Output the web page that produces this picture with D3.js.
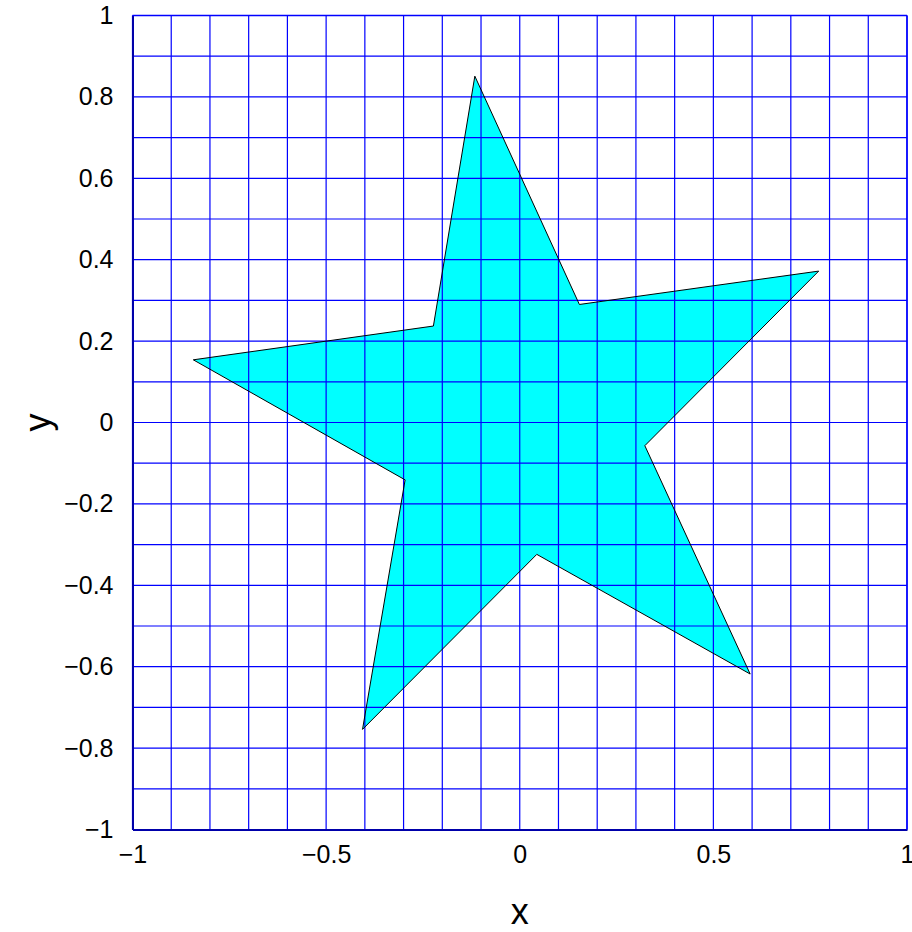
<!DOCTYPE html>
<html>
<head>
<meta charset="utf-8">
<script src="https://cdn.jsdelivr.net/npm/d3@7"></script>
<style>
  html, body { margin: 0; padding: 0; background: #fff; }
  svg text { font-family: "Liberation Sans", Arial, Helvetica, sans-serif; fill: #000; }
</style>
</head>
<body>
<svg id="chart" width="912" height="932"></svg>
<script>
// Star polygon vertices (tips and inner corners, in order)
const starX = [-0.116, 0.154, 0.772, 0.323, 0.595, 0.044, -0.406, -0.296, -0.843, -0.223];
const starY = [0.851, 0.290, 0.372, -0.057, -0.618, -0.324, -0.754, -0.141, 0.154, 0.237];

// Axis ticks and labels
const xTicks = [-1, -0.5, 0, 0.5, 1];
const xTickLabels = ["\u22121", "\u22120.5", "0", "0.5", "1"];
const yTicks = [1, 0.8, 0.6, 0.4, 0.2, 0, -0.2, -0.4, -0.6, -0.8, -1];
const yTickLabels = ["1", "0.8", "0.6", "0.4", "0.2", "0", "\u22120.2", "\u22120.4", "\u22120.6", "\u22120.8", "\u22121"];
// Grid spacing of 0.1 on both axes
const gridX = d3.range(-10, 11).map(i => i / 10);
const gridY = d3.range(-10, 11).map(i => i / 10);

const svg = d3.select("#chart");
const plotL = 132.5, plotR = 907, plotT = 15.5, plotB = 829.5;

const x = d3.scaleLinear().domain([-1, 1]).range([plotL, plotR]);
const y = d3.scaleLinear().domain([-1, 1]).range([plotB, plotT]);

// Star fill (drawn under the grid, as the grid shows through it)
const pts = starX.map((d, i) => [x(d), y(starY[i])]);
svg.append("polygon")
  .attr("points", pts.map(p => p.join(",")).join(" "))
  .attr("fill", "#00ffff")
  .attr("stroke", "none");

// Grid lines
const grid = svg.append("g").attr("stroke", "#0000ff").attr("stroke-width", 1.2);
grid.selectAll("line.gx").data(gridX).join("line").attr("class", "gx")
  .attr("x1", d => x(d)).attr("x2", d => x(d))
  .attr("y1", plotT).attr("y2", plotB);
grid.selectAll("line.gy").data(gridY).join("line").attr("class", "gy")
  .attr("y1", d => y(d)).attr("y2", d => y(d))
  .attr("x1", plotL).attr("x2", plotR);

// Star outline
svg.append("polygon")
  .attr("points", pts.map(p => p.join(",")).join(" "))
  .attr("fill", "none")
  .attr("stroke", "#000")
  .attr("stroke-width", 1);

// Axes (blue) with tick labels
const xAxis = d3.axisBottom(x).tickValues(xTicks)
  .tickFormat((d, i) => xTickLabels[i]).tickSize(0).tickPadding(16);
const gx = svg.append("g").attr("transform", `translate(0,${plotB})`).call(xAxis);
gx.select(".domain").attr("stroke", "#0000aa").attr("stroke-width", 2);
gx.selectAll("text").style("font-size", "25px").attr("fill", "#000");

const yAxis = d3.axisLeft(y).tickValues(yTicks)
  .tickFormat((d, i) => yTickLabels[i]).tickSize(0).tickPadding(19);
const gy = svg.append("g").attr("transform", `translate(${plotL},0)`).call(yAxis);
gy.select(".domain").attr("stroke", "#0000aa").attr("stroke-width", 2);
gy.selectAll("text").style("font-size", "25px").attr("fill", "#000");

// Top and right box edges
svg.append("line").attr("x1", plotL).attr("x2", plotR).attr("y1", plotT).attr("y2", plotT)
  .attr("stroke", "#0000ff").attr("stroke-width", 1.5);
svg.append("line").attr("x1", plotR).attr("x2", plotR).attr("y1", plotT).attr("y2", plotB)
  .attr("stroke", "#0000ff").attr("stroke-width", 1.5);

// Axis titles
svg.append("text").attr("x", x(0)).attr("y", 924)
  .attr("text-anchor", "middle").style("font-size", "36px").text("x");
svg.append("text")
  .attr("transform", `translate(50,${y(0)}) rotate(-90)`)
  .attr("text-anchor", "middle").style("font-size", "36px").text("y");
</script>
</body>
</html>
